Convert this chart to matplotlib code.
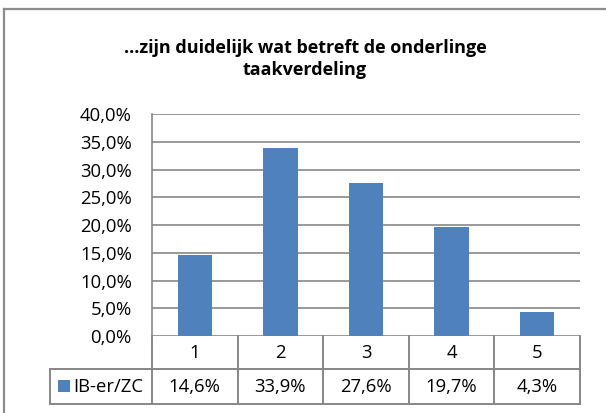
import matplotlib
matplotlib.use("Agg")
import matplotlib.pyplot as plt
from matplotlib.transforms import blended_transform_factory
from matplotlib.lines import Line2D
from matplotlib.patches import Rectangle

# Data
categories = ["1", "2", "3", "4", "5"]
values = [14.6, 33.9, 27.6, 19.7, 4.3]
series_name = "IB-er/ZC"
title = "...zijn duidelijk wat betreft de onderlinge\ntaakverdeling"
yticks = [0, 5, 10, 15, 20, 25, 30, 35, 40]

BAR = "#4F81BD"
GRID = "#878787"
FONT = "Open Sans"
FS = 13.3

W, H = 606, 413
plt.rcParams["font.family"] = [FONT, "DejaVu Sans"]
fig = plt.figure(figsize=(W / 100, H / 100), dpi=100)


def fx(px):
    return px / W


def fy(py):
    # pixel row measured from the top
    return 1 - py / H


# plot area in pixels
left, right, top, bottom = 152, 580, 114, 336
ax = fig.add_axes([fx(left), fy(bottom), fx(right - left), (bottom - top) / H])

x = list(range(len(categories)))
ax.bar(x, values, width=0.4, color=BAR, zorder=3)
ax.set_xlim(-0.5, len(categories) - 0.5)
ax.set_ylim(0, 40)
ax.set_yticks(yticks)
ax.set_yticklabels([f"{t:.1f}%".replace(".", ",") for t in yticks], fontsize=FS)
ax.tick_params(axis="y", length=0, pad=14.5, labelcolor="black")
ax.set_xticks([])
ax.yaxis.grid(True, color=GRID, linewidth=1.2, zorder=0)
for s in ["right", "bottom", "top"]:
    ax.spines[s].set_visible(False)
ax.spines["left"].set_color(GRID)
ax.spines["left"].set_linewidth(1.2)

# title
fig.text(fx(305), fy(59), title, ha="center", va="center", fontsize=13,
         fontweight="bold", linespacing=1.3)

# data table below the plot
tr = blended_transform_factory(ax.transData, fig.transFigure)
row1, row2, row3 = 336, 369, 404
lkw = dict(color=GRID, linewidth=1.4, zorder=5, clip_on=False)
n = len(categories)
for i in range(n + 1):
    xb = i - 0.5
    fig.add_artist(Line2D([xb, xb], [fy(row1), fy(row3)], transform=tr, **lkw))
for r in (row2, row3):
    fig.add_artist(Line2D([fx(50), fx(left)], [fy(r), fy(r)], transform=fig.transFigure, **lkw))
    fig.add_artist(Line2D([-0.5, n - 0.5], [fy(r), fy(r)], transform=tr, **lkw))
fig.add_artist(Line2D([fx(50), fx(50)], [fy(row2), fy(row3)], transform=fig.transFigure, **lkw))

for i, (c, v) in enumerate(zip(categories, values)):
    fig.text(i, fy((row1 + row2) / 2), c, transform=tr, ha="center", va="center", fontsize=FS)
    fig.text(i, fy((row2 + row3) / 2), f"{v:.1f}%".replace(".", ","), transform=tr,
             ha="center", va="center", fontsize=FS)

# legend key in the table
fig.add_artist(Rectangle((fx(58), fy(392)), fx(12), 12 / H, transform=fig.transFigure,
                         facecolor=BAR, edgecolor="none"))
fig.text(fx(73), fy((row2 + row3) / 2), series_name, ha="left", va="center", fontsize=FS)

# chart frame
fkw = dict(color="#8C8C8C", linewidth=1.6, transform=fig.transFigure)
fig.add_artist(Line2D([fx(4), fx(4)], [fy(9), 0], **fkw))
fig.add_artist(Line2D([fx(4), 1], [fy(9), fy(9)], **fkw))

fig.savefig("out.png", dpi=100)
